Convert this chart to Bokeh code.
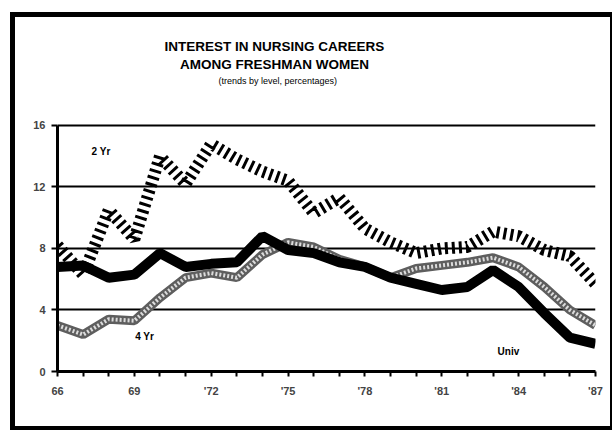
from bokeh.plotting import figure
from bokeh.models import Range1d, Label, FixedTicker
from bokeh.embed import file_html
from bokeh.resources import INLINE

years = list(range(66, 88))
two_yr = [8.2, 6.3, 10.5, 8.6, 14.0, 12.2, 14.8, 13.8, 13.0, 12.4, 10.3, 11.3,
          9.3, 8.4, 7.7, 8.0, 8.1, 9.1, 8.8, 7.9, 7.5, 5.7]
four_yr = [3.0, 2.4, 3.4, 3.3, 4.8, 6.1, 6.4, 6.1, 7.6, 8.4, 8.1, 7.3,
           6.8, 6.1, 6.7, 6.9, 7.1, 7.4, 6.8, 5.5, 4.0, 3.0]
univ = [6.8, 6.9, 6.1, 6.3, 7.7, 6.8, 7.0, 7.1, 8.8, 7.9, 7.7, 7.1,
        6.8, 6.1, 5.7, 5.3, 5.5, 6.6, 5.5, 3.8, 2.2, 1.8]
x_label_years = [66, 69, 72, 75, 78, 81, 84, 87]
x_tick_labels = ["66", "69", "'72", "'75", "'78", "'81", "'84", "'87"]
y_ticks = [0, 4, 8, 12, 16]
grid_ticks = [4, 8, 12, 16]

FONT = "Liberation Sans"

# frame reaches the top of the canvas so the title lines live inside it
p = figure(width=602, height=418, output_backend="svg", toolbar_location=None,
           title=None, x_range=Range1d(66, 87), y_range=Range1d(0, 23.02),
           min_border_left=42, min_border_right=22, min_border_top=0,
           min_border_bottom=64)
p.styles = {"border-left": "5px solid black", "border-top": "5px solid black",
            "border-bottom": "4px solid black", "border-right": "2px solid black",
            "margin-left": "10px", "margin-top": "12px", "overflow": "hidden"}
p.outline_line_color = None
p.background_fill_color = "white"
p.border_fill_color = "white"

p.xgrid.visible = False
p.ygrid.ticker = FixedTicker(ticks=grid_ticks)
p.ygrid.grid_line_color = "black"
p.ygrid.grid_line_width = 2
p.ygrid.grid_line_alpha = 1

p.yaxis.ticker = FixedTicker(ticks=y_ticks)
p.yaxis.bounds = (0, 16)
p.yaxis.axis_line_width = 3
p.yaxis.major_tick_out = 6
p.yaxis.major_tick_in = 0
p.yaxis.major_tick_line_width = 2
p.yaxis.minor_tick_line_color = None
p.yaxis.major_label_text_font = FONT
p.yaxis.major_label_text_font_style = "bold"
p.yaxis.major_label_text_font_size = "11px"
p.yaxis.major_label_standoff = 6

p.xaxis.ticker = FixedTicker(ticks=years)
p.xaxis.major_label_overrides = {y: "" for y in years}
p.xaxis.major_label_overrides.update(dict(zip(x_label_years, x_tick_labels)))
p.xaxis.axis_line_width = 3
p.xaxis.major_tick_out = 5
p.xaxis.major_tick_in = 0
p.xaxis.major_tick_line_width = 2
p.xaxis.minor_tick_line_color = None
p.xaxis.major_label_text_font = FONT
p.xaxis.major_label_text_font_style = "bold"
p.xaxis.major_label_text_font_size = "11px"
p.xaxis.major_label_standoff = 8

# 4 Yr: cross-hatched grey band
p.line(years, four_yr, line_width=9, line_color="#5e5e5e")
p.line(years, four_yr, line_width=4, line_color="#dcdcdc", line_dash="2 2")
# Univ: solid black band
p.line(years, univ, line_width=10, line_color="black")
# 2 Yr: vertical-stroke band
p.line(years, two_yr, line_width=12, line_color="black", line_dash="3 4")

lbl = dict(text_font=FONT, text_font_style="bold", text_font_size="10px",
           text_align="center", text_baseline="middle", text_color="black")
p.add_layout(Label(x=67.7, y=14.3, text="2 Yr", **lbl))
p.add_layout(Label(x=69.4, y=2.3, text="4 Yr", **lbl))
p.add_layout(Label(x=83.6, y=1.3, text="Univ", **lbl))

ttl = dict(text_font=FONT, text_align="center", text_baseline="middle",
           text_color="black")
p.add_layout(Label(x=74.47, y=21.14, text="INTEREST IN NURSING CAREERS",
                   text_font_size="13.5px", text_font_style="bold", **ttl))
p.add_layout(Label(x=74.47, y=19.97, text="AMONG FRESHMAN WOMEN",
                   text_font_size="13.5px", text_font_style="bold", **ttl))
p.add_layout(Label(x=74.6, y=18.86, text="(trends by level, percentages)",
                   text_font_size="9px", **ttl))

open("out.html", "w").write(file_html(p, INLINE))
